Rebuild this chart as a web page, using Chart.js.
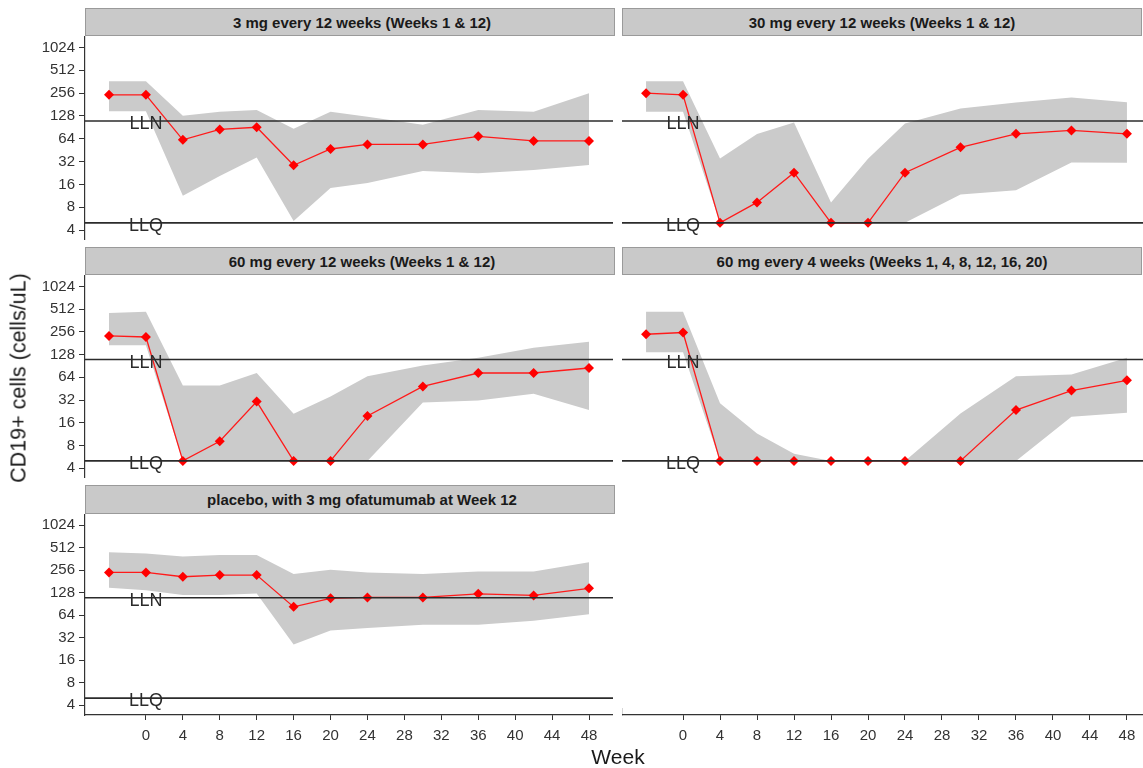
<!DOCTYPE html>
<html><head><meta charset="utf-8">
<script src="https://cdn.jsdelivr.net/npm/chart.js@4.4.1/dist/chart.umd.min.js"></script>
<style>
html,body{margin:0;padding:0;width:1143px;height:768px;overflow:hidden;background:#fff;font-family:"Liberation Sans",Arial,sans-serif;}
.strip{position:absolute;background:#c9c9c9;border:1px solid #9a9a9a;box-sizing:border-box;font-weight:bold;font-size:15px;color:#1a1a1a;display:flex;align-items:center;justify-content:center;white-space:nowrap;}
canvas{position:absolute;}
.ttl{position:absolute;color:#1a1a1a;font-size:21px;white-space:nowrap;}
</style></head><body>
<div id="root"></div>
<div class="ttl" style="left:618px;top:745px;transform:translateX(-50%);">Week</div>
<div class="ttl" style="left:19px;top:378px;transform:translate(-50%,-50%) rotate(-90deg);font-size:21.5px;">CD19+ cells (cells/uL)</div>
<script>
// ---- data ----
const weeks = [-4, 0, 4, 8, 12, 16, 20, 24, 30, 36, 42, 48];
const weekTicks = [0, 4, 8, 12, 16, 20, 24, 28, 32, 36, 40, 44, 48];
const cellTicks = [4, 8, 16, 32, 64, 128, 256, 512, 1024];
const refValues = [110, 5];
const refLabels = ['LLN', 'LLQ'];
const refLabelWeek = 0;

const titles = [
  '3 mg every 12 weeks (Weeks 1 & 12)',
  '30 mg every 12 weeks (Weeks 1 & 12)',
  '60 mg every 12 weeks (Weeks 1 & 12)',
  '60 mg every 4 weeks (Weeks 1, 4, 8, 12, 16, 20)',
  'placebo, with 3 mg ofatumumab at Week 12'
];

const median3 = [243, 243, 62, 85, 91, 28.7, 47, 54, 54, 69, 60, 60];
const upper3  = [367, 367, 129, 146, 153, 87, 146, 125, 98, 153, 146, 256];
const lower3  = [148, 148, 11.4, 20.7, 36.4, 5.3, 14.4, 16.8, 24.1, 22.5, 24.9, 29];

const median30 = [256, 243, 5, 9.3, 22.9, 5, 5, 22.9, 49.5, 74.6, 82.7, 74.6];
const upper30  = [367, 367, 35.3, 74, 105, 9.3, 35, 102, 161, 192, 224, 194];
const lower30  = [146, 146, 5, 5, 5, 5, 5, 5, 11.8, 13.4, 31.2, 31];

const median60 = [226, 219, 5, 9.1, 30.5, 5, 5, 19.7, 48.5, 73, 73, 85];
const upper60  = [455, 474, 50, 50, 73, 21, 35.6, 66, 92, 116, 158, 190];
const lower60  = [170, 170, 5, 5, 5, 5, 5, 5, 29.6, 31.5, 38.7, 23.6];

const median60q4 = [238, 251, 5, 5, 5, 5, 5, 5, 5, 23.6, 42.8, 58.4];
const upper60q4  = [474, 474, 29, 11.5, 6.2, 5, 5, 5, 21.3, 66, 69.5, 116];
const lower60q4  = [138, 138, 5, 5, 5, 5, 5, 5, 5, 5, 19.3, 21.8];

const medianPbo = [240, 240, 210, 221, 221, 83, 108, 111, 111, 124, 118, 147];
const upperPbo  = [445, 431, 391, 410, 410, 228, 260, 240, 228, 247, 247, 328];
const lowerPbo  = [150, 138, 120, 120, 125, 26, 40, 43.3, 48, 48, 54, 66];

// ---- layout ----
const X_MIN = -6.6, X_MAX = 50.6, Y_MIN = 2.97, Y_MAX = 1450;
const rows = [{strip: 8, top: 36, bottom: 240}, {strip: 247, top: 275, bottom: 478}, {strip: 485, top: 514, bottom: 715}];
const cols = [{left: 85, right: 613, stripR: 615}, {left: 622, right: 1151, stripR: 1142}];

const FONT = '"Liberation Sans", Arial, sans-serif';
const TICK_COLOR = '#333333';
const AXIS_COLOR = '#333333';

const refLines = {
  id: 'refLines',
  afterDatasetsDraw(chart) {
    const {ctx, chartArea: a, scales: {x, y}} = chart;
    ctx.save();
    ctx.beginPath(); ctx.rect(a.left, a.top, a.right - a.left, a.bottom - a.top); ctx.clip();
    ctx.strokeStyle = '#2b2b2b'; ctx.lineWidth = 1.6;
    ctx.font = '18px ' + FONT; ctx.fillStyle = '#2b2b2b';
    ctx.textAlign = 'center'; ctx.textBaseline = 'alphabetic';
    const tx = x.getPixelForValue(refLabelWeek);
    refValues.forEach((v, i) => {
      const py = y.getPixelForValue(v);
      ctx.beginPath(); ctx.moveTo(a.left, py); ctx.lineTo(a.right, py); ctx.stroke();
      ctx.fillText(refLabels[i], tx, py + 8);
    });
    ctx.restore();
  }
};

function pts(arr) { return weeks.map((w, i) => ({x: w, y: arr[i]})); }

function xScale(show) {
  return {
    type: 'linear', min: X_MIN, max: X_MAX, bounds: 'data', display: show,
    afterBuildTicks: s => { s.ticks = weekTicks.map(v => ({value: v})); },
    afterFit: s => { s.height = show ? 35 : 0; s.paddingLeft = 0; s.paddingRight = 0; },
    ticks: {autoSkip: false, maxRotation: 0, font: {family: FONT, size: 15}, color: TICK_COLOR, padding: 7, callback: v => String(v)},
    grid: {drawOnChartArea: false, drawTicks: true, tickLength: 5, color: AXIS_COLOR},
    border: {display: true, color: AXIS_COLOR, width: 1.2}
  };
}
function yScale(show) {
  return {
    type: 'logarithmic', min: Y_MIN, max: Y_MAX, bounds: 'data', display: show,
    afterBuildTicks: s => { s.ticks = cellTicks.map(v => ({value: v})); },
    afterFit: s => { s.width = show ? 85 : 0; s.paddingTop = 0; s.paddingBottom = 0; },
    ticks: {autoSkip: false, font: {family: FONT, size: 15}, color: TICK_COLOR, padding: 4, callback: v => String(v)},
    grid: {drawOnChartArea: false, drawTicks: true, tickLength: 6, color: AXIS_COLOR},
    border: {display: true, color: AXIS_COLOR, width: 1.2}
  };
}

const panels = [
  {title: titles[0], med: median3, up: upper3, lo: lower3, row: 0, col: 0, xAxis: false},
  {title: titles[1], med: median30, up: upper30, lo: lower30, row: 0, col: 1, xAxis: false},
  {title: titles[2], med: median60, up: upper60, lo: lower60, row: 1, col: 0, xAxis: false},
  {title: titles[3], med: median60q4, up: upper60q4, lo: lower60q4, row: 1, col: 1, xAxis: false},
  {title: titles[4], med: medianPbo, up: upperPbo, lo: lowerPbo, row: 2, col: 0, xAxis: true}
];

const root = document.getElementById('root');
panels.forEach(p => {
  const r = rows[p.row], c = cols[p.col];
  const strip = document.createElement('div');
  strip.className = 'strip';
  strip.style.left = c.left + 'px';
  strip.style.top = r.strip + 'px';
  strip.style.width = (c.stripR - c.left) + 'px';
  strip.style.height = (r.top - r.strip) + 'px';
  if (p.col === 0) strip.style.paddingLeft = '24px';
  strip.textContent = p.title;
  root.appendChild(strip);

  const showY = p.col === 0;
  const cv = document.createElement('canvas');
  const left = showY ? c.left - 85 : c.left;
  const w = c.right - left;
  const h = (r.bottom - r.top) + (p.xAxis ? 35 : 0);
  cv.width = w; cv.height = h;
  cv.style.left = left + 'px'; cv.style.top = r.top + 'px';
  cv.style.width = w + 'px'; cv.style.height = h + 'px';
  root.appendChild(cv);

  new Chart(cv, {
    type: 'line',
    data: {datasets: [
      {data: pts(p.med), borderColor: '#ff1a1a', borderWidth: 1.3, pointStyle: 'rectRot', pointRadius: 5,
       pointBackgroundColor: '#ff0000', pointBorderColor: '#ff0000', pointBorderWidth: 0, fill: false, tension: 0},
      {data: pts(p.lo), borderColor: 'rgba(0,0,0,0)', borderWidth: 0, pointRadius: 0, fill: false, tension: 0},
      {data: pts(p.up), borderColor: 'rgba(0,0,0,0)', borderWidth: 0, pointRadius: 0, fill: 1, backgroundColor: '#cbcbcb', tension: 0}
    ]},
    options: {
      responsive: false, animation: false, devicePixelRatio: 1,
      layout: {padding: 0, autoPadding: false},
      plugins: {legend: {display: false}, tooltip: {enabled: false}},
      scales: {x: xScale(p.xAxis), y: yScale(showY)}
    },
    plugins: [refLines]
  });
});

// x axis shown under the empty slot for the 60 mg every 4 weeks panel
(function () {
  const c = cols[1], r = rows[2];
  const cv = document.createElement('canvas');
  const w = c.right - c.left, h = 7 + 35;
  cv.width = w; cv.height = h;
  cv.style.left = c.left + 'px'; cv.style.top = (r.bottom - 7) + 'px';
  cv.style.width = w + 'px'; cv.style.height = h + 'px';
  root.appendChild(cv);
  new Chart(cv, {
    type: 'line',
    data: {datasets: []},
    options: {
      responsive: false, animation: false, devicePixelRatio: 1,
      layout: {padding: 0, autoPadding: false},
      plugins: {legend: {display: false}, tooltip: {enabled: false}},
      scales: {
        x: xScale(true),
        y: {type: 'linear', min: 0, max: 1, display: true,
            afterFit: s => { s.width = 0; s.paddingTop = 0; s.paddingBottom = 0; },
            ticks: {display: false}, grid: {drawOnChartArea: false, drawTicks: false},
            border: {display: true, color: AXIS_COLOR, width: 1.2}}
      }
    }
  });
})();
</script>
</body></html>
